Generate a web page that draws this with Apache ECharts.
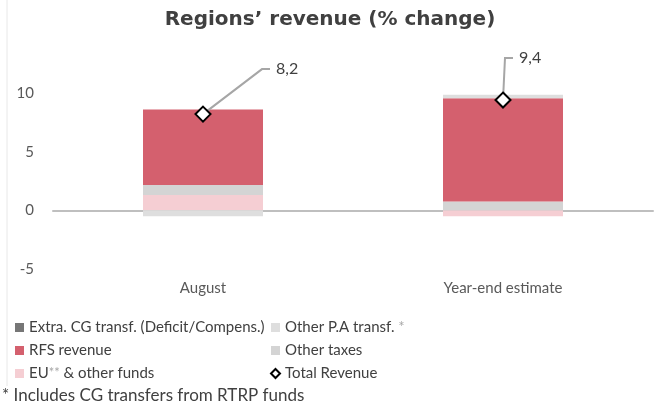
<!DOCTYPE html>
<html lang="en">

<head>
    <meta charset="UTF-8">
    <title>Regions revenue</title>
    <script src="https://cdn.jsdelivr.net/npm/echarts@6/dist/echarts.min.js"></script>
    <style>
        body { margin: 0; background: #fff; }
        #main { width: 660px; height: 409px; }
    </style>
</head>

<body>
    <div id="main"></div>
    <script>
        var categories = ['August', 'Year-end estimate']
        // stack components (% change contributions)
        var extraCG = [0, 0]
        var euFunds = [1.3, -0.5]
        var otherTaxes = [0.85, 0.75]
        var rfsRevenue = [6.45, 8.8]
        var otherPA = [-0.5, 0.3]
        var totalRevenue = [8.2, 9.4]
        var yTicks = [-5, 0, 5, 10]

        var FONT = 'Lato'
        var txt = '#404040'

        var mCharts = echarts.init(document.getElementById('main'))

        function barSeries(name, data, color) {
            return {
                name: name,
                type: 'bar',
                stack: 'rev',
                barWidth: '40%',
                data: data,
                itemStyle: { color: color },
                emphasis: { disabled: true }
            }
        }

        // elbow of the leader line, relative to the diamond (px)
        var leaderElbow = [[59, -45], [2, -42]]

        var option = {
            animation: false,
            textStyle: { fontFamily: FONT },
            title: {
                text: 'Regions’ revenue (% change)',
                left: 'center',
                top: 5,
                textStyle: { fontFamily: 'DejaVu Sans', fontSize: 20, fontWeight: 'bold', color: txt }
            },
            grid: { left: 53, right: 7, top: 93, bottom: 140 },
            legend: [{
                left: 15,
                top: 320,
                padding: 0,
                orient: 'vertical',
                icon: 'rect',
                itemWidth: 9,
                itemHeight: 9,
                itemGap: 8,
                data: ['Extra. CG transf. (Deficit/Compens.)', 'RFS revenue', 'EU** & other funds'],
                formatter: function(n) {
                    return n.replace('**', '{a|**}')
                },
                textStyle: {
                    fontFamily: FONT, fontSize: 15, color: txt,
                    rich: { a: { color: '#a6a6a6', fontSize: 13, fontFamily: FONT, verticalAlign: 'top' } }
                }
            }, {
                left: 270,
                top: 320,
                padding: 0,
                orient: 'vertical',
                icon: 'rect',
                itemWidth: 9,
                itemHeight: 9,
                itemGap: 8,
                data: ['Other P.A transf. *', 'Other taxes', {
                    name: 'Total Revenue',
                    icon: 'diamond',
                    itemStyle: { color: '#fff', borderColor: '#000', borderWidth: 2 }
                }],
                formatter: function(n) {
                    return n.replace(' *', ' {a|*}')
                },
                textStyle: {
                    fontFamily: FONT, fontSize: 15, color: txt,
                    rich: { a: { color: '#a6a6a6', fontSize: 15, fontFamily: FONT } }
                }
            }],
            xAxis: {
                type: 'category',
                data: categories,
                axisLine: { onZero: true, lineStyle: { color: '#bfbfbf', width: 2 } },
                axisTick: { show: false },
                axisLabel: { fontFamily: FONT, fontSize: 15, color: '#595959', margin: 12 },
                position: 'bottom'
            },
            yAxis: {
                type: 'value',
                min: yTicks[0],
                max: yTicks[yTicks.length - 1],
                interval: 5,
                axisLine: { show: false },
                axisTick: { show: false },
                splitLine: { show: false },
                axisLabel: { fontFamily: FONT, fontSize: 15, color: '#595959', margin: 19 }
            },
            series: [
                barSeries('Extra. CG transf. (Deficit/Compens.)', extraCG, '#767676'),
                barSeries('EU** & other funds', euFunds, '#f5ced3'),
                barSeries('Other taxes', otherTaxes, '#d4d4d4'),
                barSeries('RFS revenue', rfsRevenue, '#d4606e'),
                barSeries('Other P.A transf. *', otherPA, '#dedede'),
                {
                    // leader lines + value labels for total revenue
                    type: 'custom',
                    z: 4,
                    silent: true,
                    data: totalRevenue.map(function(v, i) { return [i, v] }),
                    encode: { x: 0, y: 1 },
                    renderItem: function(params, api) {
                        var pt = api.coord([api.value(0), api.value(1)])
                        var o = leaderElbow[params.dataIndex]
                        var ex = pt[0] + o[0], ey = pt[1] + o[1]
                        return {
                            type: 'group',
                            children: [{
                                type: 'polyline',
                                shape: { points: [pt, [ex, ey], [ex + 8, ey]] },
                                style: { stroke: '#a6a6a6', lineWidth: 2, fill: null }
                            }, {
                                type: 'text',
                                x: ex + 14,
                                y: ey,
                                style: {
                                    text: String(api.value(1)).replace('.', ','),
                                    font: '16px ' + FONT,
                                    fill: txt,
                                    verticalAlign: 'middle'
                                }
                            }]
                        }
                    }
                },
                {
                    name: 'Total Revenue',
                    type: 'scatter',
                    data: totalRevenue,
                    symbol: 'diamond',
                    symbolSize: 15,
                    z: 5,
                    itemStyle: { color: '#fff', borderColor: '#000', borderWidth: 2, opacity: 1 },
                    emphasis: { disabled: true }
                }
            ],
            graphic: [{
                type: 'line',
                shape: { x1: 7, y1: 0, x2: 7, y2: 386 },
                style: { stroke: '#e8e8e8', lineWidth: 1 }
            }, {
                type: 'text',
                left: 2,
                top: 387,
                style: { text: '* Includes CG transfers from RTRP funds', font: '17px ' + FONT, fill: txt }
            }]
        }
        mCharts.setOption(option)
    </script>
</body>

</html>
